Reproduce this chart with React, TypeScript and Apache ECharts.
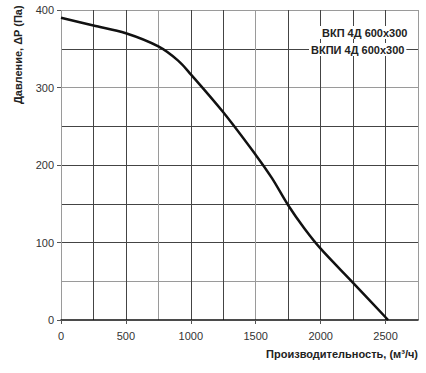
import React, { useEffect, useRef } from "react";
import * as echarts from "echarts";

const flowValues = [0, 250, 500, 750, 900, 1000, 1250, 1500, 1625, 1750, 1875, 2000, 2250, 2520];
const pressureValues = [390, 380, 370, 353, 335, 317, 268, 213, 183, 148, 118, 92, 48, 0];
const legendLines = ["ВКП 4Д 600x300", "ВКПИ 4Д 600x300"];
const xAxisTitle = "Производительность, (м³/ч)";
const yAxisTitle = "Давление, ΔP (Па)";

const DARK = "#444";
const LIGHT = "#9a9a9a";

export default function App() {
  const ref = useRef<HTMLDivElement>(null);
  useEffect(() => {
    document.body.style.margin = "0";
    const chart = echarts.init(ref.current!, undefined, { renderer: "svg" });
    const labelStyle = { color: "#333", fontSize: 11, fontFamily: "Liberation Sans, Arial, sans-serif" };
    chart.setOption({
      animation: false,
      backgroundColor: "#fff",
      grid: { left: 61, right: 8, top: 10, bottom: 53 },
      xAxis: [
        {
          type: "value", min: 0, max: 2750, interval: 500, position: "bottom",
          axisLine: { show: true, onZero: false, lineStyle: { color: "#111", width: 1.5 } },
          axisTick: { show: true, length: 4, lineStyle: { color: "#555" } },
          axisLabel: { ...labelStyle, margin: 10, showMaxLabel: false, formatter: (v: number) => String(v) },
          splitLine: { show: false },
        },
        {
          type: "value", min: 0, max: 2750, interval: 250, position: "bottom",
          axisLine: { show: false }, axisTick: { show: false }, axisLabel: { show: false },
          splitLine: {
            show: true,
            lineStyle: { width: 1, color: [LIGHT, DARK, DARK, LIGHT, DARK, DARK, LIGHT, DARK, DARK, DARK, DARK, LIGHT] },
          },
        },
      ],
      yAxis: [
        {
          type: "value", min: 0, max: 400, interval: 100, position: "left",
          axisLine: { show: false },
          axisTick: { show: true, length: 4, lineStyle: { color: "#555" } },
          axisLabel: { ...labelStyle, margin: 7, formatter: (v: number) => String(v) },
          splitLine: { show: false },
        },
        {
          type: "value", min: 0, max: 400, interval: 50, position: "left",
          axisLine: { show: false }, axisTick: { show: false }, axisLabel: { show: false },
          splitLine: {
            show: true,
            lineStyle: { width: 1, color: ["transparent", LIGHT, DARK, DARK, DARK, DARK, LIGHT, DARK, LIGHT] },
          },
        },
      ],
      series: [
        {
          type: "line",
          xAxisIndex: 0,
          yAxisIndex: 0,
          data: flowValues.map((x, i) => [x, pressureValues[i]]),
          smooth: 0.35,
          showSymbol: false,
          lineStyle: { color: "#111", width: 2.5 },
          z: 5,
        },
      ],
      graphic: [
        {
          type: "text", left: 320, top: 26, z: 10,
          style: {
            text: legendLines[0], fill: "#222", font: "bold 11px Liberation Sans, Arial, sans-serif",
            backgroundColor: "#fff", padding: [1, 2, 1, 2],
          },
        },
        {
          type: "text", left: 309, top: 43, z: 10,
          style: {
            text: legendLines[1], fill: "#222", font: "bold 11px Liberation Sans, Arial, sans-serif",
            backgroundColor: "#fff", padding: [1, 2, 1, 2],
          },
        },
        {
          type: "text", right: 8, top: 348,
          style: { text: xAxisTitle, fill: "#222", font: "bold 11px Liberation Sans, Arial, sans-serif" },
        },
        {
          type: "text", x: 12, y: 104, rotation: Math.PI / 2,
          style: { text: yAxisTitle, fill: "#222", font: "bold 11px Liberation Sans, Arial, sans-serif", align: "left", verticalAlign: "top" },
        },
      ],
    });
    return () => chart.dispose();
  }, []);
  return <div ref={ref} style={{ width: 426, height: 373 }} />;
}
